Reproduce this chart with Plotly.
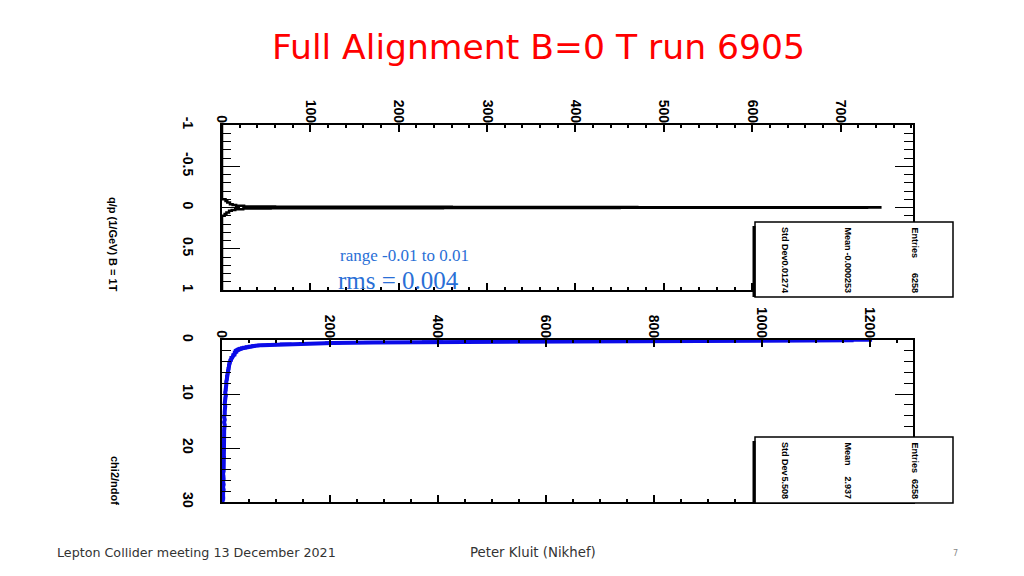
import math
import plotly.graph_objects as go

W, H = 1024, 576
OFF = 8  # page body margin of the html page

# ---------------- data ----------------
# top panel: q/p (1/GeV) histogram (variable-width bins, counts per bin)
qp_edges = [-1.0, -0.10, -0.08, -0.06, -0.04, -0.03, -0.02, -0.012, -0.010, -0.008,
            -0.006, -0.004, -0.002, 0.0, 0.002, 0.004, 0.006, 0.008, 0.010, 0.012,
            0.02, 0.03, 0.04, 0.06, 0.08, 0.10, 1.0]
qp_counts = [0, 4, 6, 9, 12, 16, 25,
             60, 120, 260, 470, 650, 745, 730, 620, 450, 250, 120, 55,
             24, 15, 11, 8, 5, 3, 0]

# bottom panel: chi2/ndof histogram
chi2_fine_width = 0.1      # bins 0 .. 2
chi2_fine_counts = [1170, 820, 560, 390, 280, 205, 155, 118, 92, 74,
                    62, 55, 49, 44, 40, 36, 33, 31, 29, 27]
chi2_tail_width = 0.5      # bins 2 .. 30
chi2_tail_counts = [25, 22, 18, 16, 14, 13, 12, 11, 10, 9,
                    9, 8, 8, 7, 7, 6, 7, 6, 6, 5,
                    6, 5, 5, 5, 4, 5, 4, 5, 4, 4,
                    4, 4, 3, 4, 4, 3, 4, 3, 3, 4,
                    3, 3, 3, 3, 3, 2, 3, 3, 2, 3,
                    2, 3, 2, 2, 3, 2]

qp_stats = [("Entries", "6258"), ("Mean", "-0.000253"), ("Std Dev", "0.01274")]
chi2_stats = [("Entries", "6258"), ("Mean", "2.937"), ("Std Dev", "5.508")]

top_count_ticks = [0, 100, 200, 300, 400, 500, 600, 700]
top_qp_ticks = [-1, -0.5, 0, 0.5, 1]
top_qp_ticktext = ["-1", "-0.5", "0", "0.5", "1"]
bot_count_ticks = [0, 200, 400, 600, 800, 1000, 1200]
bot_chi2_ticks = [0, 10, 20, 30]

# ---------------- helpers ----------------
def px(x):
    return (x - OFF) / W

def py(y):
    return 1 - (y - OFF) / H

# step outline for top histogram
xs, ys = [0], [qp_edges[0]]
for i, c in enumerate(qp_counts):
    xs += [c, c]
    ys += [qp_edges[i], qp_edges[i + 1]]
xs.append(0)
ys.append(qp_edges[-1])

# bottom histogram points
chi2_c, chi2_n, chi2_hw = [], [], []
for i, n in enumerate(chi2_fine_counts):
    chi2_c.append((i + 0.5) * chi2_fine_width)
    chi2_n.append(n)
    chi2_hw.append(chi2_fine_width / 2)
base = len(chi2_fine_counts) * chi2_fine_width
for i, n in enumerate(chi2_tail_counts):
    chi2_c.append(base + (i + 0.5) * chi2_tail_width)
    chi2_n.append(n)
    chi2_hw.append(chi2_tail_width / 2)
chi2_err = [math.sqrt(n) for n in chi2_n]

BLUE = "#0b0be8"
SANS = "Liberation Sans, Arial"
TICKFONT = dict(family=SANS, size=14, color="black", weight="bold")

fig = go.Figure()
fig.add_trace(go.Scatter(x=xs, y=ys, mode="lines", line=dict(color="black", width=2.5),
                         xaxis="x", yaxis="y", cliponaxis=False, showlegend=False,
                         hoverinfo="skip"))
fig.add_trace(go.Scatter(x=chi2_n, y=chi2_c, mode="lines",
                         line=dict(color=BLUE, width=4),
                         error_x=dict(type="data", array=chi2_err, color=BLUE, thickness=3, width=0),
                         error_y=dict(type="data", array=chi2_hw, color=BLUE, thickness=3, width=0),
                         xaxis="x2", yaxis="y2", cliponaxis=False, showlegend=False,
                         hoverinfo="skip"))

XD = [px(222), px(913)]
common = dict(showline=True, linecolor="black", linewidth=2, mirror="allticks",
              ticks="inside", tickcolor="black", showgrid=False, zeroline=False,
              automargin=False, tickangle=90, tickfont=TICKFONT)

fig.update_layout(
    width=W, height=H, margin=dict(l=0, r=0, t=0, b=0, autoexpand=False),
    paper_bgcolor="white", plot_bgcolor="white", showlegend=False,
    xaxis=dict(domain=XD, anchor="y", side="top", range=[0, 782],
               tickmode="array", tickvals=top_count_ticks, ticklen=7, tickwidth=2,
               ticklabelstandoff=-5,
               minor=dict(tickmode="linear", tick0=0, dtick=20, ticklen=3, tickwidth=2,
                          ticks="inside", tickcolor="black"),
               **common),
    yaxis=dict(domain=[py(290), py(125)], anchor="x", range=[1, -1],
               tickmode="array", tickvals=top_qp_ticks, ticktext=top_qp_ticktext,
               ticklen=18, tickwidth=1, ticklabelstandoff=20,
               minor=dict(tickmode="linear", tick0=0, dtick=0.1, ticklen=9, tickwidth=1,
                          ticks="inside", tickcolor="black"),
               **common),
    xaxis2=dict(domain=XD, anchor="y2", side="top", range=[0, 1280],
                tickmode="array", tickvals=bot_count_ticks, ticklen=7, tickwidth=2,
                ticklabelstandoff=-5,
                minor=dict(tickmode="linear", tick0=0, dtick=50, ticklen=3, tickwidth=2,
                           ticks="inside", tickcolor="black"),
                **common),
    yaxis2=dict(domain=[py(502), py(340)], anchor="x2", range=[30, 0],
                tickmode="array", tickvals=bot_chi2_ticks,
                ticklen=18, tickwidth=1, ticklabelstandoff=20,
                minor=dict(tickmode="linear", tick0=0, dtick=2, ticklen=9, tickwidth=1,
                           ticks="inside", tickcolor="black"),
                **common),
)

ann = []
def text(x, y, s, font, xanchor="center", yanchor="middle", angle=0):
    ann.append(dict(x=px(x), y=py(y), xref="paper", yref="paper", showarrow=False,
                    xanchor=xanchor, yanchor=yanchor, textangle=angle, text=s, font=font))

# title
text(538, 47, "Full Alignment B=0 T run 6905",
     dict(family="DejaVu Sans", size=34.6, color="#ff0000"))
# footer
text(55, 552, "Lepton Collider meeting 13 December 2021",
     dict(family="DejaVu Sans", size=12.7, color="#333333"), xanchor="left")
text(468, 552, "Peter Kluit (Nikhef)",
     dict(family="DejaVu Sans", size=13.3, color="#333333"), xanchor="left")
text(955, 553, "7", dict(family="DejaVu Sans", size=8, color="#888888"))
# axis titles (rotated)
text(113, 244, "q/p (1/GeV) B = 1T",
     dict(family=SANS, size=11, color="black", weight="bold"), angle=90)
text(115, 480, "chi2/ndof",
     dict(family=SANS, size=11, color="black", weight="bold"), angle=90)
# range / rms text
text(338, 255, "range -0.01 to 0.01",
     dict(family="Liberation Serif", size=17, color="#2a6fd6"), xanchor="left")
text(336, 280, "rms = 0.004",
     dict(family="Liberation Serif", size=25, color="#2a6fd6"), xanchor="left")

shapes = []
def stats_box(y0, y1, stats):
    x0, x1 = 755, 953
    shapes.append(dict(type="rect", xref="paper", yref="paper",
                       x0=px(x0), x1=px(x1), y0=py(y1), y1=py(y0),
                       fillcolor="white", line=dict(color="black", width=1.5), layer="above"))
    shapes.append(dict(type="line", xref="paper", yref="paper",
                       x0=px(x0 - 1), x1=px(x0 - 1), y0=py(y1), y1=py(y0 + 4),
                       line=dict(color="black", width=3), layer="above"))
    cols = [915, 848, 785]
    f = dict(family=SANS, size=9, color="black", weight="bold")
    for (lab, val), cx in zip(stats, cols):
        text(cx, y0 + 3, lab, f, yanchor="top", angle=90)
        text(cx, y1 - 2, val, f, yanchor="bottom", angle=90)

stats_box(222, 297, qp_stats)
stats_box(437, 503, chi2_stats)

fig.update_layout(annotations=ann, shapes=shapes)
fig.write_html("out.html")
